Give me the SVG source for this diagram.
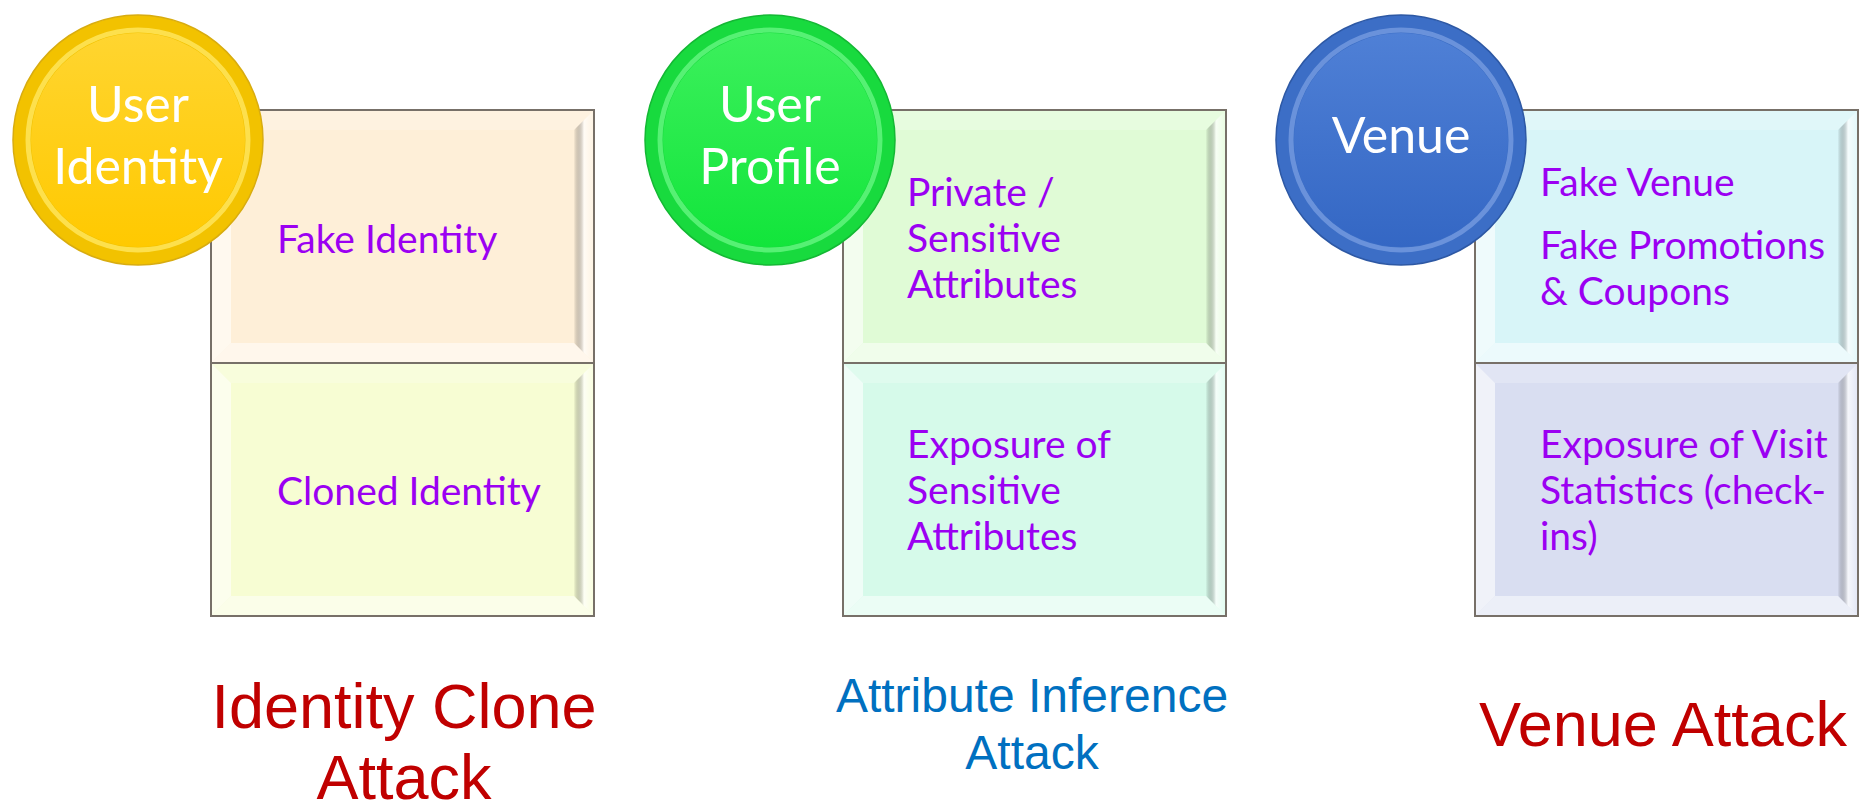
<svg xmlns="http://www.w3.org/2000/svg" xmlns:xlink="http://www.w3.org/1999/xlink" width="1862" height="807" viewBox="0 0 1862 807">
  <style>
    .item { font-family: Lato, "Open Sans", sans-serif; font-size: 39px; fill: #9B00F2; }
    .badge { font-family: Lato, "Open Sans", sans-serif; font-size: 50px; fill: #FFFFFF; text-anchor: middle; }
    .title { font-family: "Liberation Sans", Arial, sans-serif; text-anchor: middle; }
    .red { fill: #C00000; font-size: 63px; }
    .blue { fill: #0070C0; font-size: 48px; }
    .edge { fill: none; stroke: #777068; stroke-width: 2; }
  </style>
  <defs>
    <!-- bevelled overlay for one 383 x 253 box -->
    <linearGradient id="rightShade" x1="0" y1="0" x2="1" y2="0">
      <stop offset="0" stop-color="#000000" stop-opacity="0.025"/>
      <stop offset="0.5" stop-color="#FFFFFF" stop-opacity="0.75"/>
      <stop offset="1" stop-color="#FFFFFF" stop-opacity="0.25"/>
    </linearGradient>
    <symbol id="bevel" viewBox="0 0 383 253" width="383" height="253" overflow="visible">
      <polygon points="0,0 383,0 363,20 20,20" fill="#FFFFFF" opacity="0.22"/>
      <polygon points="0,0 20,20 20,233 0,253" fill="#FFFFFF" opacity="0.6"/>
      <polygon points="383,0 383,253 363,233 363,20" fill="url(#rightShade)"/>
      <polygon points="0,253 20,233 363,233 383,253" fill="#FFFFFF" opacity="0.5"/>
      <rect x="0" y="0" width="383" height="253" class="edge"/>
    </symbol>
    <linearGradient id="gYellow" x1="0" y1="0" x2="0" y2="1">
      <stop offset="0" stop-color="#FFD530"/>
      <stop offset="1" stop-color="#FFC900"/>
    </linearGradient>
    <linearGradient id="gGreen" x1="0" y1="0" x2="0" y2="1">
      <stop offset="0" stop-color="#3CF05C"/>
      <stop offset="1" stop-color="#12E53B"/>
    </linearGradient>
    <linearGradient id="gBlue" x1="0" y1="0" x2="0" y2="1">
      <stop offset="0" stop-color="#4F80D6"/>
      <stop offset="1" stop-color="#3467C4"/>
    </linearGradient>
  </defs>

  <!-- Panel 1: user identity -->
  <g id="fake-identity">
    <rect x="211" y="110" width="383" height="253" fill="#FEEFD8"/>
    <use xlink:href="#bevel" x="211" y="110"/>
    <text class="item" x="277" y="253">Fake Identity</text>
  </g>
  <g id="cloned-identity">
    <rect x="211" y="363" width="383" height="253" fill="#F7FDD3"/>
    <use xlink:href="#bevel" x="211" y="363"/>
    <text class="item" x="277" y="505">Cloned Identity</text>
  </g>
  <g id="user-identity">
    <circle cx="138" cy="140" r="125" fill="#F2C200" stroke="#D8AC10" stroke-width="1.5"/>
    <circle cx="138" cy="140" r="110" fill="none" stroke="#FFE55A" stroke-width="5" opacity="0.85"/>
    <circle cx="138" cy="140" r="107" fill="url(#gYellow)"/>
    <text class="badge" x="138" y="122">User</text>
    <text class="badge" x="138" y="184">Identity</text>
  </g>
  <g id="identity-clone-attack">
    <text class="title red" x="404" y="728">Identity Clone</text>
    <text class="title red" x="404" y="799">Attack</text>
  </g>

  <!-- Panel 2: user profile -->
  <g id="private-attributes">
    <rect x="843" y="110" width="383" height="253" fill="#E0FBD6"/>
    <use xlink:href="#bevel" x="843" y="110"/>
    <text class="item" x="907" y="206">Private /</text>
    <text class="item" x="907" y="252">Sensitive</text>
    <text class="item" x="907" y="298">Attributes</text>
  </g>
  <g id="exposure-attributes">
    <rect x="843" y="363" width="383" height="253" fill="#D6FAEA"/>
    <use xlink:href="#bevel" x="843" y="363"/>
    <text class="item" x="907" y="458">Exposure of</text>
    <text class="item" x="907" y="504">Sensitive</text>
    <text class="item" x="907" y="550">Attributes</text>
  </g>
  <g id="user-profile">
    <circle cx="770" cy="140" r="125" fill="#18DA3E" stroke="#14B834" stroke-width="1.5"/>
    <circle cx="770" cy="140" r="110" fill="none" stroke="#62F57E" stroke-width="5" opacity="0.85"/>
    <circle cx="770" cy="140" r="107" fill="url(#gGreen)"/>
    <text class="badge" x="770" y="122">User</text>
    <text class="badge" x="770" y="184">Profile</text>
  </g>
  <g id="attribute-inference-attack">
    <text class="title blue" x="1032" y="712">Attribute Inference</text>
    <text class="title blue" x="1032" y="769">Attack</text>
  </g>

  <!-- Panel 3: venue -->
  <g id="fake-venue">
    <rect x="1475" y="110" width="383" height="253" fill="#D8F5F8"/>
    <use xlink:href="#bevel" x="1475" y="110"/>
    <text class="item" x="1540" y="196">Fake Venue</text>
    <text class="item" x="1540" y="259">Fake Promotions</text>
    <text class="item" x="1540" y="305">&amp; Coupons</text>
  </g>
  <g id="visit-statistics">
    <rect x="1475" y="363" width="383" height="253" fill="#D9DEF1"/>
    <use xlink:href="#bevel" x="1475" y="363"/>
    <text class="item" x="1540" y="458">Exposure of Visit</text>
    <text class="item" x="1540" y="504">Statistics (check-</text>
    <text class="item" x="1540" y="550">ins)</text>
  </g>
  <g id="venue">
    <circle cx="1401" cy="140" r="125" fill="#3C6EC6" stroke="#2D58A4" stroke-width="1.5"/>
    <circle cx="1401" cy="140" r="110" fill="none" stroke="#7299DE" stroke-width="5" opacity="0.85"/>
    <circle cx="1401" cy="140" r="107" fill="url(#gBlue)"/>
    <text class="badge" x="1401" y="153">Venue</text>
  </g>
  <g id="venue-attack">
    <text class="title red" x="1663" y="746">Venue Attack</text>
  </g>
</svg>
